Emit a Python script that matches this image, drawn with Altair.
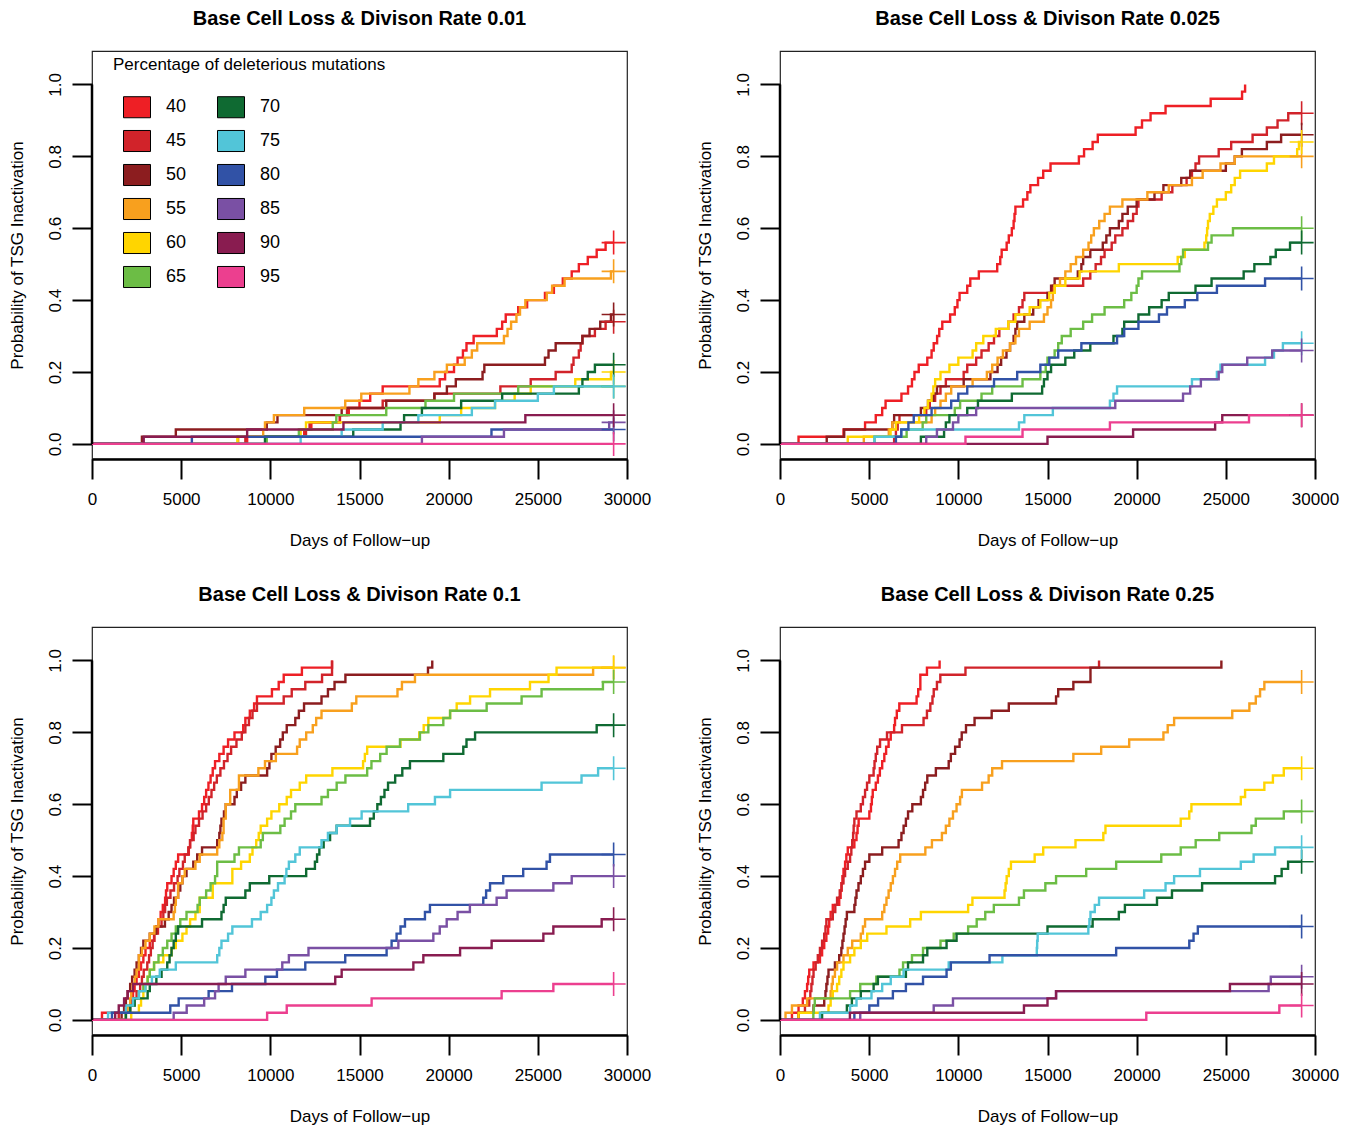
import altair as alt
import pandas as pd

PCTS = ["40", "45", "50", "55", "60", "65", "70", "75", "80", "85", "90", "95"]
PCT_NUMS = [40, 45, 50, 55, 60, 65, 70, 75, 80, 85, 90, 95]
COLORS = ["#EE1F25", "#D1232A", "#8C1D1F", "#F8A01E", "#FFD500", "#6CBD45",
          "#0F6A32", "#52C5D8", "#3152A6", "#7A50A4", "#891C50", "#EC3F8F"]
XTICKS = [0, 5000, 10000, 15000, 20000, 25000, 30000]
YTICKS = [0.0, 0.2, 0.4, 0.6, 0.8, 1.0]
TITLES = ["Base Cell Loss & Divison Rate 0.01", "Base Cell Loss & Divison Rate 0.025",
          "Base Cell Loss & Divison Rate 0.1", "Base Cell Loss & Divison Rate 0.25"]
CENSOR_T = 29250

# ---- Panel A: rate 0.01  ([day, cumulative probability] at each step)
A40 = [[8700,.02],[11900,.04],[12300,.06],[13900,.08],[14400,.10],[15000,.12],[15600,.14],[16300,.16],[19500,.18],[19800,.20],[20300,.22],[20500,.24],[20800,.26],[21000,.28],[21400,.30],[22700,.32],[23000,.34],[23200,.36],[23900,.38],[24400,.40],[25400,.42],[25900,.44],[26400,.46],[26900,.48],[27300,.50],[27800,.52],[28300,.54],[28800,.56]]
A45 = [[8600,.02],[12000,.04],[12200,.06],[13900,.08],[14300,.10],[16300,.12],[19200,.14],[22900,.16],[24600,.18],[26000,.20],[26900,.22],[27000,.24],[27300,.26],[27400,.28],[27500,.30],[28200,.32],[28800,.34]]
A50 = [[2800,.02],[4700,.04],[9800,.06],[10400,.08],[14000,.10],[16500,.12],[19200,.14],[19900,.16],[20400,.18],[21900,.20],[22000,.22],[25400,.24],[25600,.26],[26000,.28],[27500,.30],[27900,.32],[28500,.34],[29100,.36]]
A55 = [[8200,.02],[9600,.04],[9700,.06],[10200,.08],[11900,.10],[14200,.12],[15100,.14],[17800,.16],[18300,.18],[19200,.20],[19900,.22],[20900,.24],[21300,.26],[21600,.28],[23100,.30],[23300,.32],[23500,.34],[23800,.36],[24000,.38],[24300,.40],[25500,.42],[25800,.44],[26500,.46],[29100,.48]]
A60 = [[8150,.02],[11700,.04],[12000,.06],[19500,.08],[20700,.10],[22600,.12],[23700,.14],[24600,.16],[27100,.18],[29100,.20]]
A65 = [[9800,.02],[11600,.04],[13500,.06],[13700,.08],[16500,.10],[18700,.12],[20300,.14],[23900,.16]]
A70 = [[9700,.02],[14650,.04],[17300,.06],[17500,.08],[18500,.10],[20700,.12],[23000,.14],[27300,.16],[27500,.18],[27800,.20],[28200,.22]]
A75 = [[11700,.02],[14000,.04],[16300,.06],[18300,.08],[21300,.10],[22600,.12],[25000,.14],[25900,.16]]
A80 = [[5600,.02],[22400,.04]]
A85 = [[18500,.02],[23100,.04],[29000,.06]]
A90 = [[2900,.02],[8700,.04],[14100,.06],[24300,.08]]
A95 = []

# ---- Panel B: rate 0.025
B40 = [[1040,.02],[3560,.04],[4770,.06],[5370,.08],[5730,.10],[5920,.12],[6810,.14],[7180,.16],[7400,.18],[7540,.20],[7780,.22],[8260,.24],[8500,.26],[8620,.28],[8810,.30],[8930,.32],[9100,.34],[9540,.36],[9800,.38],[9950,.40],[10070,.42],[10500,.44],[10670,.46],[11150,.48],[12180,.50],[12350,.52],[12430,.54],[12710,.56],[12830,.58],[13000,.60],[13100,.62],[13150,.64],[13200,.66],[13630,.68],[13870,.70],[14040,.72],[14470,.74],[14760,.76],[15170,.78],[16760,.80],[17050,.82],[17530,.84],[17820,.86],[19940,.88],[20300,.90],[20780,.92],[21620,.94],[24150,.96],[25910,.98],[26080,1.0]]
B45 = [[6400,.02],[6500,.04],[6600,.06],[6700,.08],[8200,.10],[8400,.12],[8700,.14],[9000,.16],[9300,.18],[10300,.20],[10500,.22],[11000,.24],[11300,.26],[11700,.28],[12000,.30],[12300,.32],[12800,.34],[13100,.36],[13400,.38],[13600,.40],[13700,.42],[15300,.44],[17000,.46],[17400,.48],[17700,.50],[18000,.52],[18200,.54],[18600,.56],[18800,.58],[19200,.60],[19500,.62],[19800,.64],[20000,.66],[20100,.68],[21400,.70],[22000,.72],[22800,.74],[23100,.76],[23300,.78],[23500,.80],[24600,.82],[25300,.84],[26500,.86],[27300,.88],[27900,.90],[28500,.92]]
B50 = [[2620,.02],[3600,.04],[6300,.06],[6400,.08],[7900,.10],[8300,.12],[8600,.14],[8800,.16],[10300,.18],[11800,.20],[12200,.22],[12400,.24],[12700,.26],[12900,.28],[13100,.30],[13200,.32],[13300,.34],[13700,.36],[14200,.38],[14500,.40],[15000,.42],[15200,.44],[15400,.46],[16700,.48],[16900,.50],[17000,.52],[17400,.54],[18100,.56],[18300,.58],[18500,.60],[19000,.62],[19200,.64],[19500,.66],[20000,.68],[21000,.70],[21500,.72],[22500,.74],[23000,.76],[25000,.78],[25500,.80],[25900,.82],[27300,.84],[28100,.86]]
B55 = [[4700,.02],[6100,.04],[6300,.06],[8500,.08],[8700,.10],[9000,.12],[9300,.14],[9600,.16],[10800,.18],[11600,.20],[11900,.22],[12200,.24],[12500,.26],[12900,.28],[13200,.30],[13400,.32],[14000,.34],[14800,.36],[15000,.38],[15200,.40],[15300,.42],[15400,.44],[15700,.46],[16000,.48],[16300,.50],[16600,.52],[17000,.54],[17300,.56],[17450,.58],[17600,.60],[17900,.62],[18200,.64],[18500,.66],[19200,.68],[20600,.70],[21800,.72],[23100,.74],[23700,.76],[24700,.78],[25500,.80]]
B60 = [[3800,.02],[6200,.04],[6500,.06],[7800,.08],[8100,.10],[8300,.12],[8500,.14],[8600,.16],[8700,.18],[9000,.20],[9500,.22],[10000,.24],[10800,.26],[11000,.28],[11400,.30],[12100,.32],[12800,.34],[13200,.36],[14000,.38],[14600,.40],[15100,.42],[15400,.44],[16000,.46],[16800,.48],[19000,.50],[22300,.52],[22700,.54],[23800,.56],[23900,.58],[23950,.60],[24000,.62],[24100,.64],[24300,.66],[24500,.68],[25000,.70],[25300,.72],[25500,.74],[25800,.76],[27300,.78],[27700,.80],[29000,.82],[29100,.84]]
B65 = [[5300,.02],[7100,.04],[8000,.06],[8200,.08],[9800,.10],[10100,.12],[11300,.14],[11900,.16],[13600,.18],[14600,.20],[14900,.22],[15000,.24],[15400,.26],[15600,.28],[15800,.30],[16300,.32],[17000,.34],[17500,.36],[18200,.38],[19300,.40],[19700,.42],[20000,.44],[20100,.46],[20300,.48],[22400,.50],[22500,.52],[22600,.54],[24000,.56],[24200,.58],[25400,.60]]
B70 = [[7900,.02],[9200,.04],[9300,.06],[9500,.08],[10500,.10],[11100,.12],[13000,.14],[14700,.16],[14800,.18],[15000,.20],[15200,.22],[16000,.24],[16500,.26],[17400,.28],[18700,.30],[19200,.32],[19300,.34],[20100,.36],[20700,.38],[21400,.40],[21800,.42],[23300,.44],[24200,.46],[26000,.48],[26600,.50],[27500,.52],[27800,.54],[28600,.56]]
B75 = [[5300,.02],[6800,.04],[13400,.06],[13700,.08],[15300,.10],[18500,.12],[18700,.14],[18900,.16],[23100,.18],[24500,.20],[24700,.22],[27200,.24],[27700,.26],[28200,.28]]
B80 = [[6500,.02],[6800,.04],[7200,.06],[7500,.08],[8500,.10],[9600,.12],[10000,.14],[10500,.16],[12000,.18],[13300,.20],[14600,.22],[15100,.24],[15600,.26],[16900,.28],[18900,.30],[19300,.32],[20100,.34],[21250,.36],[21700,.38],[22700,.40],[23400,.42],[24500,.44],[27200,.46]]
B85 = [[8200,.02],[8800,.04],[9700,.06],[10000,.08],[11000,.10],[18800,.12],[22600,.14],[23000,.16],[23600,.18],[24600,.20],[24800,.22],[26200,.24],[27600,.26]]
B90 = [[15000,.02],[19800,.04],[24400,.06],[24800,.08]]
B95 = [[10400,.02],[13600,.04],[18500,.06],[26300,.08]]

# ---- Panel C: rate 0.1
C40 = [[560,.02],[2140,.04],[2250,.06],[2300,.08],[2390,.10],[2500,.12],[2630,.14],[2750,.16],[2880,.18],[3000,.20],[3240,.22],[3480,.24],[3600,.26],[3730,.28],[3850,.30],[3970,.32],[4100,.34],[4150,.36],[4220,.38],[4460,.40],[4580,.42],[4700,.44],[4830,.46],[5430,.48],[5500,.50],[5600,.52],[5650,.54],[5680,.56],[6000,.58],[6170,.60],[6290,.62],[6400,.64],[6530,.66],[6650,.68],[6770,.70],[6900,.72],[7140,.74],[7380,.76],[7630,.78],[7990,.80],[8480,.82],[8600,.84],[8850,.86],[9090,.88],[9250,.90],[10090,.92],[10470,.94],[10750,.96],[11770,.98],[13460,1.0]]
C45 = [[1500,.02],[1900,.04],[2200,.06],[2500,.08],[2700,.10],[2800,.12],[2900,.14],[3100,.16],[3200,.18],[3300,.20],[3400,.22],[3500,.24],[3700,.26],[3900,.28],[4000,.30],[4100,.32],[4200,.34],[4400,.36],[4600,.38],[4800,.40],[4900,.42],[5100,.44],[5200,.46],[5400,.48],[5500,.50],[5700,.52],[5800,.54],[6000,.56],[6200,.58],[6400,.60],[6550,.62],[6700,.64],[6850,.66],[7000,.68],[7200,.70],[7400,.72],[7600,.74],[7800,.76],[8100,.78],[8400,.80],[8600,.82],[8800,.84],[9000,.86],[9250,.88],[10750,.90],[11200,.92],[11960,.94],[12900,.96],[13460,1.0]]
C50 = [[1660,.02],[1800,.04],[1900,.06],[2000,.08],[2140,.10],[2250,.12],[2390,.14],[2500,.16],[2630,.18],[2750,.20],[2880,.22],[3240,.24],[3600,.26],[4090,.28],[4300,.30],[4460,.32],[4600,.34],[4830,.36],[4950,.38],[5070,.40],[5300,.42],[5680,.44],[5900,.46],[6170,.48],[7020,.50],[7140,.52],[7200,.54],[7260,.56],[7400,.58],[7500,.60],[7990,.62],[8120,.64],[8360,.66],[8600,.68],[9820,.70],[9950,.72],[10060,.74],[10300,.76],[10550,.78],[10700,.80],[10920,.82],[11400,.84],[11600,.86],[11890,.88],[12870,.90],[13230,.92],[13600,.94],[14210,.96],[18840,.98],[19080,1.0]]
C55 = [[1900,.02],[2000,.04],[2140,.06],[2200,.08],[2270,.10],[2400,.12],[2500,.14],[2630,.18],[2800,.20],[3000,.22],[3240,.24],[3500,.26],[3730,.28],[4580,.30],[4650,.32],[4700,.34],[4830,.38],[5070,.40],[5200,.42],[5800,.44],[6040,.46],[7020,.48],[7140,.50],[7310,.52],[7380,.56],[7500,.60],[7750,.64],[8240,.68],[9330,.70],[9700,.72],[10310,.74],[11500,.76],[11650,.78],[12010,.80],[12380,.82],[12570,.84],[12870,.86],[14570,.88],[14820,.90],[17130,.92],[17380,.94],[18110,.96],[28100,.98]]
C60 = [[2200,.02],[2630,.04],[2750,.06],[2880,.08],[3000,.10],[3120,.12],[3240,.14],[3480,.16],[4000,.18],[4460,.20],[4700,.22],[5070,.24],[5300,.26],[5500,.28],[5800,.30],[6040,.34],[6770,.38],[7870,.42],[8360,.44],[8850,.46],[9000,.48],[9210,.50],[9350,.52],[9460,.54],[9820,.56],[10060,.58],[10500,.60],[10920,.62],[11160,.64],[11650,.66],[12010,.68],[13480,.70],[15200,.72],[15300,.74],[15430,.76],[17300,.78],[18350,.80],[18600,.82],[18860,.84],[20080,.86],[20450,.88],[21200,.90],[22320,.92],[24560,.94],[25600,.96],[26050,.98]]
C65 = [[1900,.02],[2140,.04],[2390,.06],[2630,.08],[2880,.10],[3120,.12],[3240,.14],[3480,.16],[3730,.18],[3970,.20],[4220,.22],[4460,.24],[4700,.26],[4950,.28],[5300,.30],[5920,.32],[6040,.34],[6400,.36],[6650,.38],[6900,.40],[7020,.44],[7990,.46],[8240,.48],[9460,.50],[9580,.52],[10560,.54],[10800,.56],[11160,.58],[11400,.60],[12870,.62],[13230,.64],[13720,.66],[14210,.68],[15430,.70],[15670,.72],[16160,.74],[16520,.76],[17270,.78],[18390,.80],[18860,.82],[19700,.84],[20080,.86],[22130,.88],[24090,.90],[25210,.92],[28650,.94]]
C70 = [[1900,.02],[2140,.04],[2390,.06],[3120,.08],[3240,.10],[3610,.12],[3900,.14],[4220,.16],[4350,.18],[4460,.20],[4580,.22],[4700,.24],[4830,.26],[6170,.28],[7260,.30],[7380,.32],[7500,.34],[8600,.36],[8850,.38],[9940,.40],[12010,.42],[12500,.44],[12620,.46],[12750,.48],[12990,.50],[13350,.52],[13720,.54],[15590,.56],[15800,.58],[16000,.60],[16200,.62],[16400,.64],[16600,.66],[17000,.68],[17400,.70],[17830,.72],[19700,.74],[20820,.76],[21000,.78],[21480,.80],[28300,.82]]
C75 = [[900,.02],[1900,.04],[2300,.06],[2630,.08],[3000,.10],[3360,.12],[3800,.14],[4700,.16],[7020,.18],[7140,.20],[7260,.22],[7630,.24],[7870,.26],[8970,.28],[9460,.30],[9820,.32],[10060,.34],[10200,.36],[10430,.38],[10800,.40],[10900,.42],[11040,.44],[11400,.46],[11650,.48],[12870,.50],[13230,.52],[13720,.54],[14470,.56],[15120,.58],[17730,.60],[19230,.62],[20080,.64],[25210,.66],[27450,.68],[28380,.70]]
C80 = [[1120,.02],[4390,.04],[4860,.06],[6540,.08],[7850,.10],[9720,.12],[10370,.14],[11960,.16],[14200,.18],[16520,.20],[16800,.22],[17080,.24],[17300,.26],[17550,.28],[18670,.30],[18950,.32],[21940,.34],[22100,.36],[22320,.38],[23060,.40],[24180,.42],[25490,.44],[25680,.46]]
C85 = [[4580,.02],[5310,.04],[6290,.06],[6900,.08],[7100,.10],[7500,.12],[8600,.14],[10670,.16],[11040,.18],[12140,.20],[17180,.22],[19140,.24],[19500,.26],[19890,.28],[20500,.30],[21190,.32],[22690,.34],[23250,.36],[25870,.38],[26900,.40]]
C90 = [[1300,.02],[1500,.04],[1800,.06],[2000,.08],[2300,.10],[13640,.12],[14000,.14],[18020,.16],[18580,.18],[20640,.20],[22410,.22],[25310,.24],[25870,.26],[28580,.28]]
C95 = [[9820,.02],[10920,.04],[15680,.06],[22970,.08],[25870,.10]]

# ---- Panel D: rate 0.25
D40 = [[670,.02],[1040,.04],[1280,.06],[1400,.08],[1520,.10],[1580,.12],[1640,.14],[1880,.16],[2240,.18],[2360,.20],[2480,.22],[2600,.24],[2700,.26],[2760,.28],[2840,.30],[2960,.32],[3320,.34],[3400,.36],[3450,.38],[3500,.40],[3560,.42],[3650,.44],[3720,.46],[3800,.48],[4170,.50],[4290,.52],[4350,.54],[4410,.56],[5010,.58],[5100,.60],[5150,.62],[5200,.64],[5370,.66],[5490,.68],[5600,.70],[5730,.72],[5850,.74],[5950,.76],[6090,.78],[6210,.80],[6400,.82],[6450,.84],[6550,.86],[6690,.88],[7660,.90],[7750,.92],[7870,.96],[8240,.98],[8950,1.0]]
D45 = [[1040,.02],[1400,.04],[1640,.06],[1700,.08],[1760,.10],[1820,.12],[1880,.14],[2000,.16],[2120,.18],[2240,.20],[2360,.22],[2480,.24],[2550,.26],[2600,.28],[2960,.30],[3100,.32],[3200,.34],[3350,.36],[3450,.38],[3560,.40],[3650,.42],[3800,.44],[3930,.46],[4000,.48],[4050,.50],[4100,.52],[4130,.54],[4170,.56],[4290,.58],[4530,.60],[4650,.62],[4770,.64],[4880,.66],[5010,.68],[5250,.70],[5300,.72],[5370,.74],[5450,.76],[5610,.78],[6000,.80],[6840,.82],[8050,.84],[8240,.86],[8430,.88],[8550,.90],[8620,.92],[8800,.94],[8990,.96],[10400,.98],[17890,1.0]]
D50 = [[1040,.02],[1880,.04],[2480,.06],[2550,.08],[2600,.10],[2660,.12],[2720,.14],[3080,.16],[3320,.18],[3440,.20],[3500,.22],[3560,.24],[3620,.26],[3680,.28],[3750,.30],[4170,.32],[4230,.34],[4290,.36],[4400,.38],[4530,.40],[4650,.42],[4770,.44],[5010,.46],[5730,.48],[6650,.50],[6810,.52],[6930,.54],[7060,.56],[7180,.58],[7420,.60],[7900,.62],[8020,.64],[8140,.66],[8260,.68],[8740,.70],[9460,.72],[9580,.74],[9820,.76],[10070,.78],[10190,.80],[10430,.82],[10910,.84],[11870,.86],[12830,.88],[15480,.90],[15600,.92],[16450,.94],[17410,.98],[24750,1.0]]
D55 = [[310,.02],[670,.04],[1520,.06],[2840,.08],[2900,.10],[2960,.12],[3080,.14],[3200,.16],[3560,.18],[3800,.20],[4050,.22],[4530,.24],[4650,.26],[4770,.28],[5730,.30],[5850,.32],[5970,.34],[6090,.36],[6210,.38],[6330,.40],[6450,.42],[6570,.44],[6740,.46],[8150,.48],[8520,.50],[9080,.52],[9300,.54],[9500,.56],[9700,.58],[9900,.60],[10100,.62],[10200,.64],[11330,.66],[11700,.68],[11900,.70],[12450,.72],[16450,.74],[18010,.76],[19580,.78],[21500,.80],[21740,.82],[22100,.84],[25360,.86],[26320,.88],[26680,.90],[26920,.92],[27160,.94]]
D60 = [[1040,.02],[2720,.04],[2840,.06],[2960,.08],[3200,.10],[3320,.12],[3440,.14],[3560,.16],[3930,.18],[4170,.20],[4530,.22],[4890,.24],[5970,.26],[7300,.28],[7900,.30],[10550,.32],[10790,.34],[12590,.36],[12650,.38],[12710,.40],[12830,.42],[12950,.44],[14280,.46],[14760,.48],[16570,.50],[18130,.52],[18250,.54],[22470,.56],[22950,.58],[23070,.60],[25840,.62],[26080,.64],[27160,.66],[27640,.68],[28250,.70]]
D65 = [[1870,.02],[1900,.04],[1950,.06],[3930,.08],[4500,.10],[5400,.12],[6700,.14],[6900,.16],[7400,.18],[8020,.20],[9000,.22],[9740,.24],[10550,.26],[11030,.28],[11510,.30],[11990,.32],[13400,.34],[13680,.36],[14880,.38],[15480,.40],[17170,.42],[18850,.44],[21380,.46],[22470,.48],[23310,.50],[24630,.52],[26440,.54],[26680,.56],[28250,.58]]
D70 = [[2360,.02],[3750,.04],[4030,.06],[4530,.08],[5250,.10],[5490,.12],[7060,.14],[7180,.16],[8020,.18],[8260,.20],[9340,.22],[9900,.24],[15000,.26],[17530,.28],[19000,.30],[19340,.32],[21140,.34],[21980,.36],[23670,.38],[27760,.40],[28130,.42],[28490,.44]]
D75 = [[2240,.02],[3930,.04],[4290,.06],[5130,.08],[5730,.10],[6210,.12],[6930,.14],[9460,.16],[12470,.18],[14400,.20],[14420,.22],[14450,.24],[17290,.26],[17350,.28],[17410,.30],[17650,.32],[17890,.34],[20420,.36],[21620,.38],[22100,.40],[23550,.42],[25840,.44],[26560,.46],[27760,.48]]
D80 = [[4170,.02],[5010,.04],[5500,.06],[6330,.08],[7060,.10],[8020,.12],[9340,.14],[9580,.16],[11750,.18],[18850,.20],[22950,.22],[23190,.24],[23430,.26]]
D85 = [[4500,.02],[8620,.04],[9700,.06],[15480,.08],[27400,.10],[27520,.12]]
D90 = [[3920,.02],[13680,.04],[15000,.06],[15480,.08],[25230,.10]]
D95 = [[20540,.02],[28000,.04]]

PANEL_CURVES = [
    [A40, A45, A50, A55, A60, A65, A70, A75, A80, A85, A90, A95],
    [B40, B45, B50, B55, B60, B65, B70, B75, B80, B85, B90, B95],
    [C40, C45, C50, C55, C60, C65, C70, C75, C80, C85, C90, C95],
    [D40, D45, D50, D55, D60, D65, D70, D75, D80, D85, D90, D95],
]

FONT = "Liberation Sans"
PLUS = "M-1,0H1M0,-1V1"
RECT = "M-1,-0.78H1V0.78H-1Z"
PANEL_W, PANEL_H = 535, 408
GAP_X, GAP_Y = 153, 168


def build(curves):
    line_rows, cens_rows = [], []
    for pct, num, steps in zip(PCTS, PCT_NUMS, curves):
        pts = [[0, 0.0]] + steps
        last = pts[-1][1]
        if last < 0.999:
            pts = pts + [[CENSOR_T, last]]
            cens_rows.append({"pct": pct, "t": CENSOR_T, "p": last})
        for t, p in pts:
            line_rows.append({"pct": pct, "lvl": num, "t": t, "p": p})
    return pd.DataFrame(line_rows), pd.DataFrame(cens_rows)


XS = alt.Scale(domain=[0, 30000], nice=False, zero=False)
YS = alt.Scale(domain=[-0.042, 1.093], nice=False, zero=False)
CS = alt.Scale(domain=PCTS, range=COLORS)
FS = alt.Scale(domain=PCT_NUMS, range=COLORS)

XAXIS = alt.Axis(values=XTICKS, format="d", grid=False, tickSize=20, tickWidth=2,
                 tickColor="black", domainWidth=2.5, domainColor="black",
                 labelFontSize=17, labelFont=FONT, labelColor="black", labelPadding=12,
                 labelFlush=False, labelOverlap=False,
                 titleFontSize=17, titleFont=FONT, titleFontWeight="normal",
                 titleColor="black", titlePadding=25)
YAXIS = alt.Axis(values=YTICKS, format=".1f", grid=False, tickSize=20, tickWidth=2,
                 tickColor="black", domain=False, labelAngle=270, labelAlign="center",
                 labelBaseline="bottom", labelFontSize=17, labelFont=FONT,
                 labelColor="black", labelPadding=8, labelFlush=False, labelOverlap=False,
                 titleFontSize=17, titleFont=FONT, titleFontWeight="normal",
                 titleColor="black", titlePadding=20)


def panel(idx, with_legend):
    lines_df, cens_df = build(PANEL_CURVES[idx])
    xenc = alt.X("t:Q", scale=XS, axis=XAXIS, title="Days of Follow−up")
    yenc = alt.Y("p:Q", scale=YS, axis=YAXIS, title="Probability of TSG Inactivation")
    col = alt.Color("pct:N", scale=CS, legend=None)
    lines = alt.Chart(lines_df).mark_line(interpolate="step-after", strokeWidth=2.4).encode(
        x=xenc, y=yenc, color=col)
    cens = alt.Chart(cens_df).mark_point(shape=PLUS, size=576, filled=False,
                                         strokeWidth=1.6, opacity=1).encode(
        x=xenc, y=yenc, color=col)
    yline = alt.Chart(pd.DataFrame({"k": [0]})).mark_rule(color="black", strokeWidth=2.5).encode(
        x=alt.value(0), y=alt.datum(0.0), y2=alt.datum(1.0))
    layers = [lines, cens, yline]
    if with_legend:
        leg = alt.Legend(title="Percentage of deleterious mutations", orient="none",
                         legendX=21, legendY=6, columns=2, symbolType=RECT, symbolSize=729,
                         symbolStrokeColor="black", symbolStrokeWidth=1, symbolOffset=10,
                         symbolOpacity=1, labelOffset=15, labelFontSize=18, labelFont=FONT,
                         labelColor="black", titleFontSize=17, titleFont=FONT,
                         titleFontWeight="normal", titleColor="black", titlePadding=19,
                         titleLimit=500, rowPadding=7, columnPadding=20, padding=0)
        legpts = alt.Chart(lines_df).mark_point(filled=True, size=0).encode(
            x=xenc, y=yenc, fill=alt.Fill("lvl:N", scale=FS, legend=leg))
        layers.append(legpts)
    return alt.layer(*layers).properties(
        width=PANEL_W, height=PANEL_H,
        title=alt.TitleParams(TITLES[idx], fontSize=20, fontWeight="bold", font=FONT,
                              color="black", offset=22, anchor="middle"))


row1 = alt.hconcat(panel(0, True), panel(1, False), spacing=GAP_X, bounds="flush")
row2 = alt.hconcat(panel(2, False), panel(3, False), spacing=GAP_X, bounds="flush")
# with flush bounds a nested row contributes no height, so the gap includes one panel height
chart = alt.vconcat(row1, row2, spacing=GAP_Y + PANEL_H, bounds="flush").properties(
    padding={"left": 7, "top": 8, "right": 0, "bottom": 0},
    background="white",
).configure_view(stroke="#222222", strokeWidth=1.2)

chart.save("out.html", embed_options={"renderer": "svg", "actions": False})
